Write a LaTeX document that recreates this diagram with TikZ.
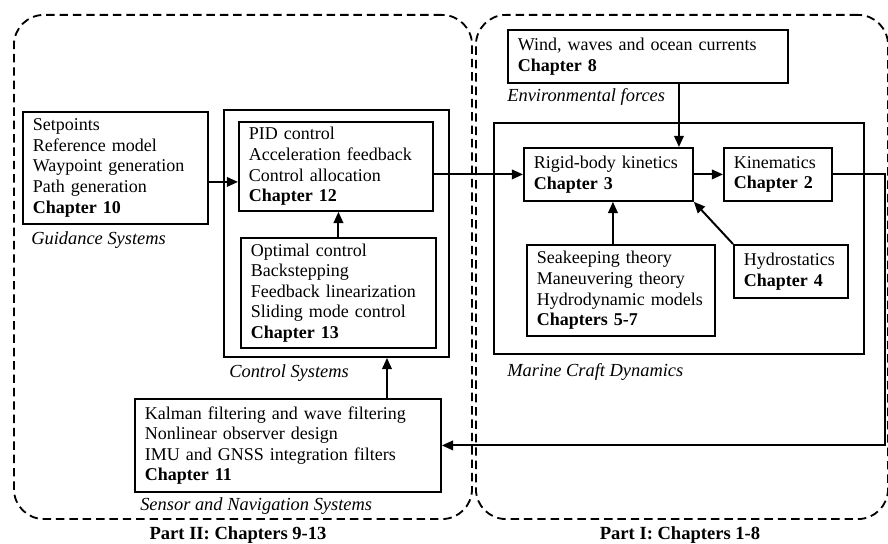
\documentclass[tikz,border=0pt]{standalone}
\usepackage{fontspec}
\setmainfont{Liberation Serif}
\usetikzlibrary{positioning,arrows.meta}
\tikzset{
  flowarrow/.style={-{Triangle[length=2.8mm,width=2.4mm]}, line width=1.4pt},
  blkbox/.style={draw, line width=1.3pt, anchor=north west, align=left, inner xsep=0.25cm, inner ysep=2pt, font=\fontsize{12.8}{14.6}\selectfont},
  groupbox/.style={draw, line width=1.3pt, anchor=north west, inner sep=0pt},
  partbox/.style={draw, dash pattern=on 6pt off 3.5pt, line width=1.3pt, rounded corners=0.75cm, anchor=north west, inner sep=0pt},
  grouplabel/.style={anchor=west, inner sep=0pt, font=\fontsize{13.1}{15}\selectfont\itshape},
  partlabel/.style={inner sep=0pt, font=\fontsize{13.2}{15}\selectfont\bfseries}
}

\begin{document}
\begin{tikzpicture}[x=0.025cm, y=-0.025cm]
  \useasboundingbox (0,0) rectangle (888,544);

  % the two parts of the book
  \node[partbox, minimum width=11.45cm, minimum height=12.6cm] (part2) at (13,14) {};
  \node[partbox, minimum width=10.3cm, minimum height=12.6cm] (part1) at (475,14) {};
  \node[partlabel] (part2lbl) at (238,535) {Part II: Chapters 9-13};
  \node[partlabel] (part1lbl) at (680,535) {Part I: Chapters 1-8};

  % Part II
  \node[blkbox, text width=4.125cm, minimum height=2.8cm] (guide) at (22,111)
    {Setpoints\\Reference model\\Waypoint generation\\Path generation\\\textbf{Chapter 10}};
  \node[grouplabel] (guidelbl) at (31,240) {Guidance Systems};

  \node[groupbox, minimum width=5.625cm, minimum height=6.175cm] (ctrl) at (223,109) {};
  \node[blkbox, text width=4.35cm, minimum height=2.225cm] (pid) at (238,121)
    {PID control\\Acceleration feedback\\Control allocation\\\textbf{Chapter 12}};
  \node[blkbox, text width=4.375cm, minimum height=2.75cm] (opt) at (240,237)
    {Optimal control\\Backstepping\\Feedback linearization\\Sliding mode control\\\textbf{Chapter 13}};
  \node[grouplabel] (ctrllbl) at (229,373) {Control Systems};

  \node[blkbox, text width=7.15cm, minimum height=2.325cm] (sensor) at (134,398)
    {Kalman filtering and wave filtering\\Nonlinear observer design\\IMU and GNSS integration filters\\\textbf{Chapter 11}};
  \node[grouplabel] (sensorlbl) at (140,506) {Sensor and Navigation Systems};

  % Part I
  \node[blkbox, text width=6.5cm, minimum height=1.325cm] (env) at (507,29)
    {Wind, waves and ocean currents\\\textbf{Chapter 8}};
  \node[grouplabel] (envlbl) at (507,97) {Environmental forces};

  \node[groupbox, minimum width=9.25cm, minimum height=5.775cm] (marine) at (493,122) {};
  \node[blkbox, text width=3.725cm, minimum height=1.325cm] (rigid) at (523,147)
    {Rigid-body kinetics\\\textbf{Chapter 3}};
  \node[blkbox, text width=2.2cm, minimum height=1.325cm] (kin) at (723,147)
    {Kinematics\\\textbf{Chapter 2}};
  \node[blkbox, text width=4.2cm, minimum height=2.275cm] (sea) at (526,244)
    {Seakeeping theory\\Maneuvering theory\\Hydrodynamic models\\\textbf{Chapters 5-7}};
  \node[blkbox, text width=2.35cm, minimum height=1.325cm] (hydro) at (733,244)
    {Hydrostatics\\\textbf{Chapter 4}};
  \node[grouplabel] (marinelbl) at (507,372) {Marine Craft Dynamics};

  % signal flow
  \coordinate (gout) at ([yshift=-0.35cm]guide.east);
  \draw[flowarrow] (gout) -- (gout -| pid.west);
  \draw[flowarrow] (opt.north) -- (opt.north |- pid.south);
  \coordinate (sout) at ([xshift=2.475cm]sensor.north);
  \draw[flowarrow] (sout) -- (sout |- ctrl.south);
  \draw[flowarrow] (rigid.west -| pid.east) -- (rigid.west);
  \coordinate (eout) at ([xshift=0.775cm]env.south);
  \draw[flowarrow] (eout) -- (eout |- rigid.north);
  \draw[flowarrow] (rigid.east) -- (kin.west);
  \coordinate (hout) at ([xshift=-0.2cm]sea.north);
  \draw[flowarrow] (hout) -- (hout |- rigid.south);
  \draw[flowarrow] (hydro.north west) -- (rigid.south east);
  \draw[flowarrow] (kin.east) -- ++(52,0) |- (sensor.east);
\end{tikzpicture}
\end{document}
